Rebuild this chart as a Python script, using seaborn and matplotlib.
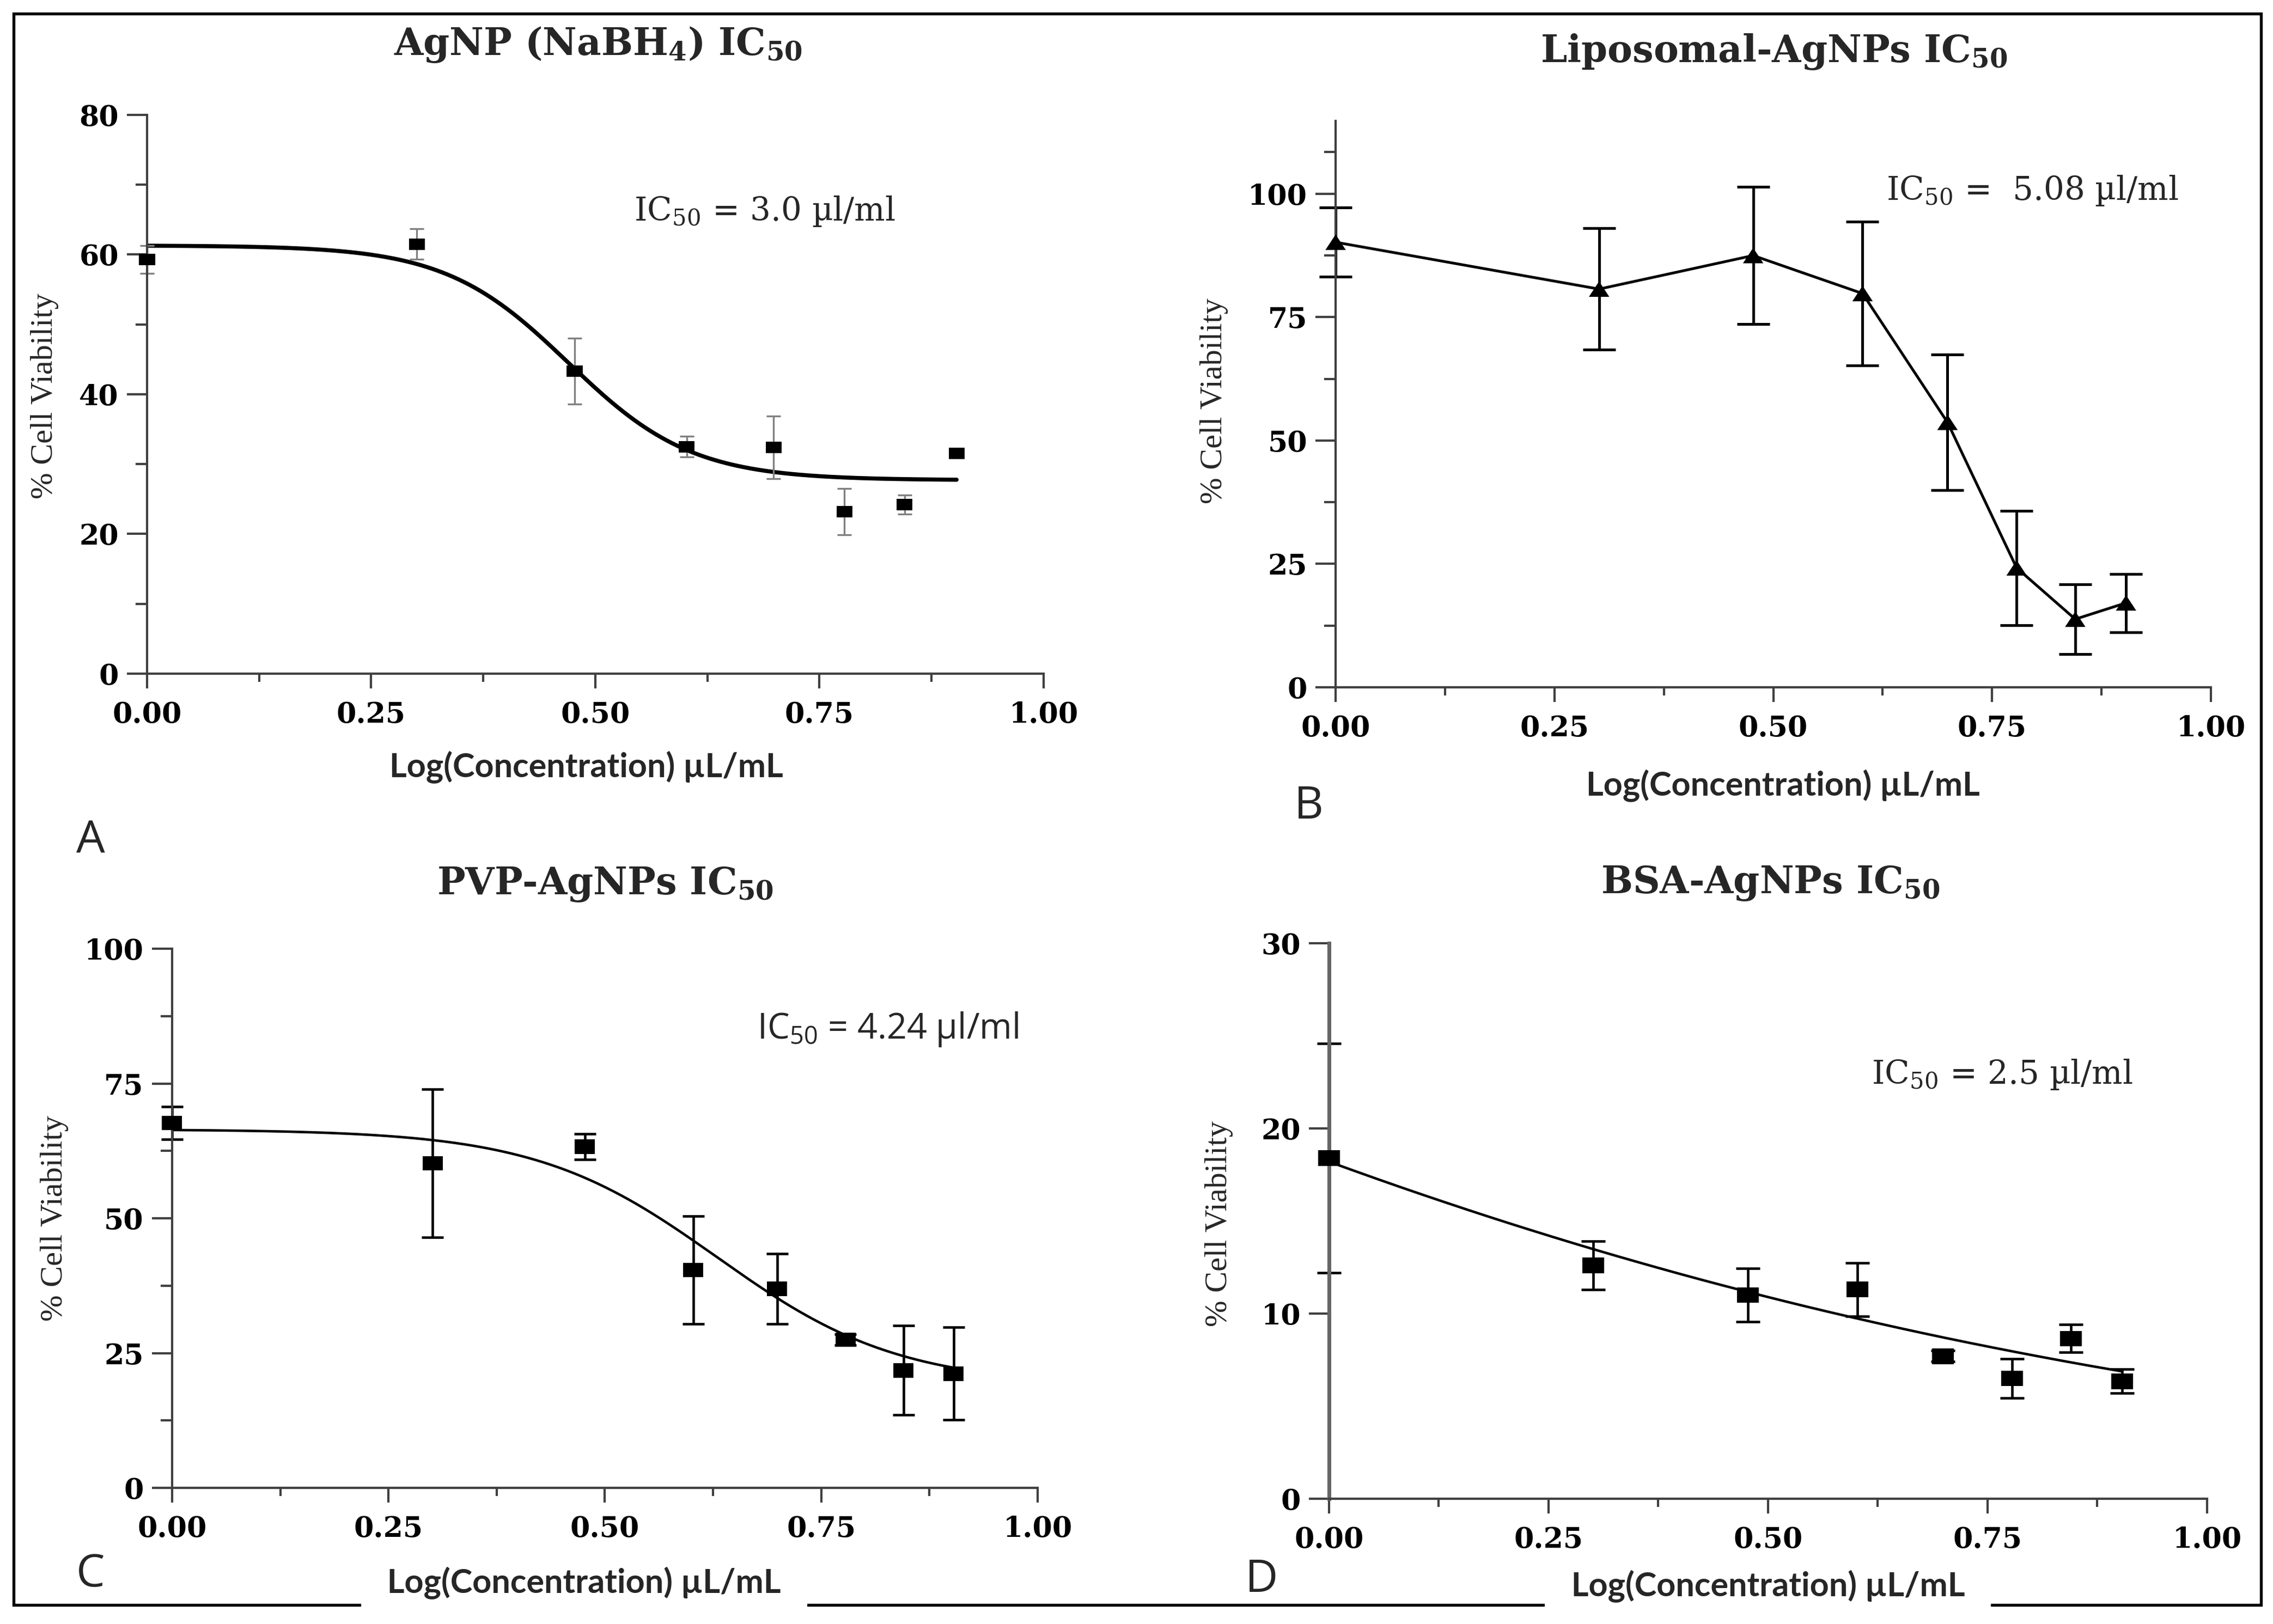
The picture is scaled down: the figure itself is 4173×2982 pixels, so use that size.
import numpy as np
import pandas as pd
import matplotlib
matplotlib.use('Agg')
import matplotlib.pyplot as plt
import seaborn as sns
from matplotlib.ticker import MultipleLocator, FixedLocator, FormatStrFormatter
from matplotlib.patches import Rectangle
from matplotlib.markers import MarkerStyle

#%% data
log_conc = [0.000, 0.301, 0.477, 0.602, 0.699, 0.778, 0.845, 0.903]

# A : AgNP (NaBH4)
viab_a = [59.3, 61.5, 43.3, 32.5, 32.4, 23.2, 24.2, 31.5]
err_a = [2.0, 2.2, 4.7, 1.5, 4.5, 3.3, 1.4, 0.5]
fit_a = dict(top=61.3, bottom=27.7, logic=0.47, hill=6.3)

# B : Liposomal-AgNPs (points joined, no fit)
viab_b = [90.2, 80.7, 87.5, 79.8, 53.7, 24.2, 13.8, 17.1]
err_b = [7.0, 12.3, 13.9, 14.6, 13.7, 11.6, 7.1, 5.9]

# C : PVP-AgNPs
viab_c = [67.7, 60.2, 63.3, 40.4, 36.9, 27.5, 21.8, 21.2]
err_c = [3.0, 13.7, 2.4, 10.0, 6.5, 1.0, 8.3, 8.6]
fit_c = dict(top=66.5, bottom=19.0, logic=0.63, hill=4.13)

# D : BSA-AgNPs
viab_d = [18.4, 12.6, 11.0, 11.3, 7.7, 6.5, 8.65, 6.35]
err_d = [6.2, 1.3, 1.45, 1.45, 0.3, 1.05, 0.75, 0.65]
fit_d = dict(top=65.0, bottom=0.0, logic=-0.717, hill=0.572)

titles = ['AgNP (NaBH$_4$) IC$_{50}$', 'Liposomal-AgNPs IC$_{50}$',
          'PVP-AgNPs IC$_{50}$', 'BSA-AgNPs IC$_{50}$']
ic50_txt = ['IC$_{50}$ = 3.0 \u00b5l/ml', 'IC$_{50}$ =  5.08 \u00b5l/ml',
            'IC$_{50}$ = 4.24 \u00b5l/ml', 'IC$_{50}$ = 2.5 \u00b5l/ml']
letters = ['A', 'B', 'C', 'D']
xlab = 'Log(Concentration) \u00b5L/mL'
ylab = '% Cell Viability'


def four_pl(x, top, bottom, logic, hill):
    return bottom + (top - bottom) / (1 + 10 ** ((x - logic) * hill))


#%% style
sns.set_theme(style='ticks')
plt.rcParams['font.family'] = ['DejaVu Serif']
plt.rcParams['font.weight'] = 'bold'
plt.rcParams['mathtext.default'] = 'regular'
plt.rcParams['axes.linewidth'] = 1.0
plt.rcParams['axes.edgecolor'] = '0.25'
plt.rcParams['xtick.color'] = '0.25'
plt.rcParams['ytick.color'] = '0.25'
plt.rcParams['xtick.labelcolor'] = 'black'
plt.rcParams['ytick.labelcolor'] = 'black'
plt.rcParams['xtick.labelsize'] = 12.5
plt.rcParams['ytick.labelsize'] = 12.5

# the source picture is stretched sideways, so markers are wider than tall
sq = MarkerStyle([(-1, -0.72), (1, -0.72), (1, 0.72), (-1, 0.72), (-1, -0.72)])
tri = MarkerStyle([(-1, -0.76), (1, -0.76), (0, 0.76), (-1, -0.76)])

fig = plt.figure(figsize=(13.91, 9.94), dpi=300)

rects = [[0.0647, 0.5852, 0.3944, 0.3441],
         [0.5876, 0.5768, 0.3851, 0.3488],
         [0.0757, 0.0838, 0.3808, 0.3320],
         [0.5847, 0.0771, 0.3863, 0.3421]]
axes = [fig.add_axes(r) for r in rects]


def style_axes(ax, ytop, ymajor, yminor):
    ax.set_xlim(0, 1)
    ax.set_ylim(0, ytop)
    ax.xaxis.set_major_locator(MultipleLocator(0.25))
    ax.xaxis.set_minor_locator(MultipleLocator(0.125))
    ax.xaxis.set_major_formatter(FormatStrFormatter('%.2f'))
    ax.yaxis.set_major_locator(MultipleLocator(ymajor))
    if yminor is not None:
        ax.yaxis.set_minor_locator(FixedLocator(yminor))
    ax.yaxis.set_major_formatter(FormatStrFormatter('%d'))
    sns.despine(ax=ax)
    ax.tick_params(axis='x', which='major', length=6.5, width=1.0, pad=5.5)
    ax.tick_params(axis='x', which='minor', length=3.5, width=1.0)
    ax.tick_params(axis='y', which='major', length=9, width=1.0, pad=3.5)
    ax.tick_params(axis='y', which='minor', length=5, width=1.0)


def labels(ax, xy_x, xy_y, boxed=False):
    text = '  ' + xlab + '  ' if boxed else xlab
    kw = dict(family='Lato', weight='bold', size=14.7)
    if boxed:
        kw['bbox'] = dict(boxstyle='square,pad=0.3', facecolor='white', edgecolor='none')
    ax.set_xlabel(text, **kw)
    ax.xaxis.label.set_va('center')
    ax.xaxis.set_label_coords(*xy_x)
    ax.set_ylabel(ylab, family='Liberation Serif', weight='normal', size=14)
    ax.yaxis.label.set_va('center')
    ax.yaxis.set_label_coords(*xy_y)


#%% A
ax = axes[0]
df_a = pd.DataFrame({'logc': log_conc, 'viab': viab_a, 'err': err_a})
xs = np.linspace(0, log_conc[-1], 300)
sns.lineplot(x=xs, y=four_pl(xs, **fit_a), color='black', lw=1.8, ax=ax)
ax.errorbar(df_a.logc, df_a.viab, yerr=df_a.err, fmt='none', ecolor='0.5',
            elinewidth=0.8, capsize=3.2, capthick=0.8, clip_on=False, zorder=2)
sns.scatterplot(data=df_a, x='logc', y='viab', marker=sq, s=7 ** 2, color='black',
                edgecolor='none', ax=ax, zorder=3, clip_on=False)
style_axes(ax, 80, 20, [10, 30, 50, 70])
labels(ax, (0.49, -0.168), (-0.114, 0.497))

#%% B
ax = axes[1]
df_b = pd.DataFrame({'logc': log_conc, 'viab': viab_b, 'err': err_b})
sns.lineplot(data=df_b, x='logc', y='viab', color='black', lw=1.2, ax=ax)
ax.errorbar(df_b.logc, df_b.viab, yerr=df_b.err, fmt='none', ecolor='black',
            elinewidth=1.2, capsize=7.2, capthick=1.2, clip_on=False, zorder=2)
sns.scatterplot(data=df_b, x='logc', y='viab', marker=tri, s=9 ** 2, color='black',
                edgecolor='none', ax=ax, zorder=3, clip_on=False)
style_axes(ax, 114.8, 25, [12.5, 37.5, 62.5, 87.5, 108.5])
labels(ax, (0.511, -0.174), (-0.139, 0.506))

#%% C
ax = axes[2]
df_c = pd.DataFrame({'logc': log_conc, 'viab': viab_c, 'err': err_c})
sns.lineplot(x=xs, y=four_pl(xs, **fit_c), color='black', lw=1.1, ax=ax)
ax.errorbar(df_c.logc, df_c.viab, yerr=df_c.err, fmt='none', ecolor='black',
            elinewidth=1.1, capsize=4.8, capthick=1.1, clip_on=False, zorder=2)
sns.scatterplot(data=df_c, x='logc', y='viab', marker=sq, s=8.9 ** 2, color='black',
                edgecolor='none', ax=ax, zorder=3, clip_on=False)
style_axes(ax, 100, 25, [12.5, 37.5, 62.5, 87.5])
labels(ax, (0.476, -0.177), (-0.136, 0.50), boxed=True)

#%% D
ax = axes[3]
df_d = pd.DataFrame({'logc': log_conc, 'viab': viab_d, 'err': err_d})
sns.lineplot(x=xs, y=four_pl(xs, **fit_d), color='black', lw=1.1, ax=ax)
ax.errorbar(df_d.logc, df_d.viab, yerr=df_d.err, fmt='none', ecolor='black',
            elinewidth=1.1, capsize=5.3, capthick=1.1, clip_on=False, zorder=2)
sns.scatterplot(data=df_d, x='logc', y='viab', marker=sq, s=9.6 ** 2, color='black',
                edgecolor='none', ax=ax, zorder=3, clip_on=False)
style_axes(ax, 30, 10, None)
ax.spines['left'].set_linewidth(1.7)
ax.spines['left'].set_color('0.4')
labels(ax, (0.50, -0.158), (-0.125, 0.495), boxed=True)

#%% texts
title_pos = [(0.2631, 0.9661), (0.7805, 0.9618), (0.2662, 0.4494), (0.7788, 0.4500)]
ic_pos = [(0.2789, 0.8642), (0.8299, 0.8768), (0.3331, 0.3604), (0.8234, 0.3325)]
letter_pos = [(0.0335, 0.4748), (0.5694, 0.4960), (0.0335, 0.0231), (0.5478, 0.0198)]

for i in range(4):
    fig.text(*title_pos[i], titles[i], ha='center', va='baseline',
             family='DejaVu Serif', weight='bold', size=16.5)
    if i == 2:
        fig.text(*ic_pos[i], ic50_txt[i], ha='left', va='baseline',
                 family='Open Sans', weight='normal', size=15.5)
    else:
        fig.text(*ic_pos[i], ic50_txt[i], ha='left', va='baseline',
                 family='DejaVu Serif', weight='normal', size=14.3)
    fig.text(*letter_pos[i], letters[i], ha='left', va='baseline',
             family='Open Sans', weight='normal', size=20)

# outer frame (drawn under the axes so the boxed x labels break it)
fig.patches.append(Rectangle((0.006, 0.0118), 0.9887, 0.9798, transform=fig.transFigure,
                             fill=False, edgecolor='black', lw=1.3, zorder=-1))

fig.savefig('out.png', dpi=300)
